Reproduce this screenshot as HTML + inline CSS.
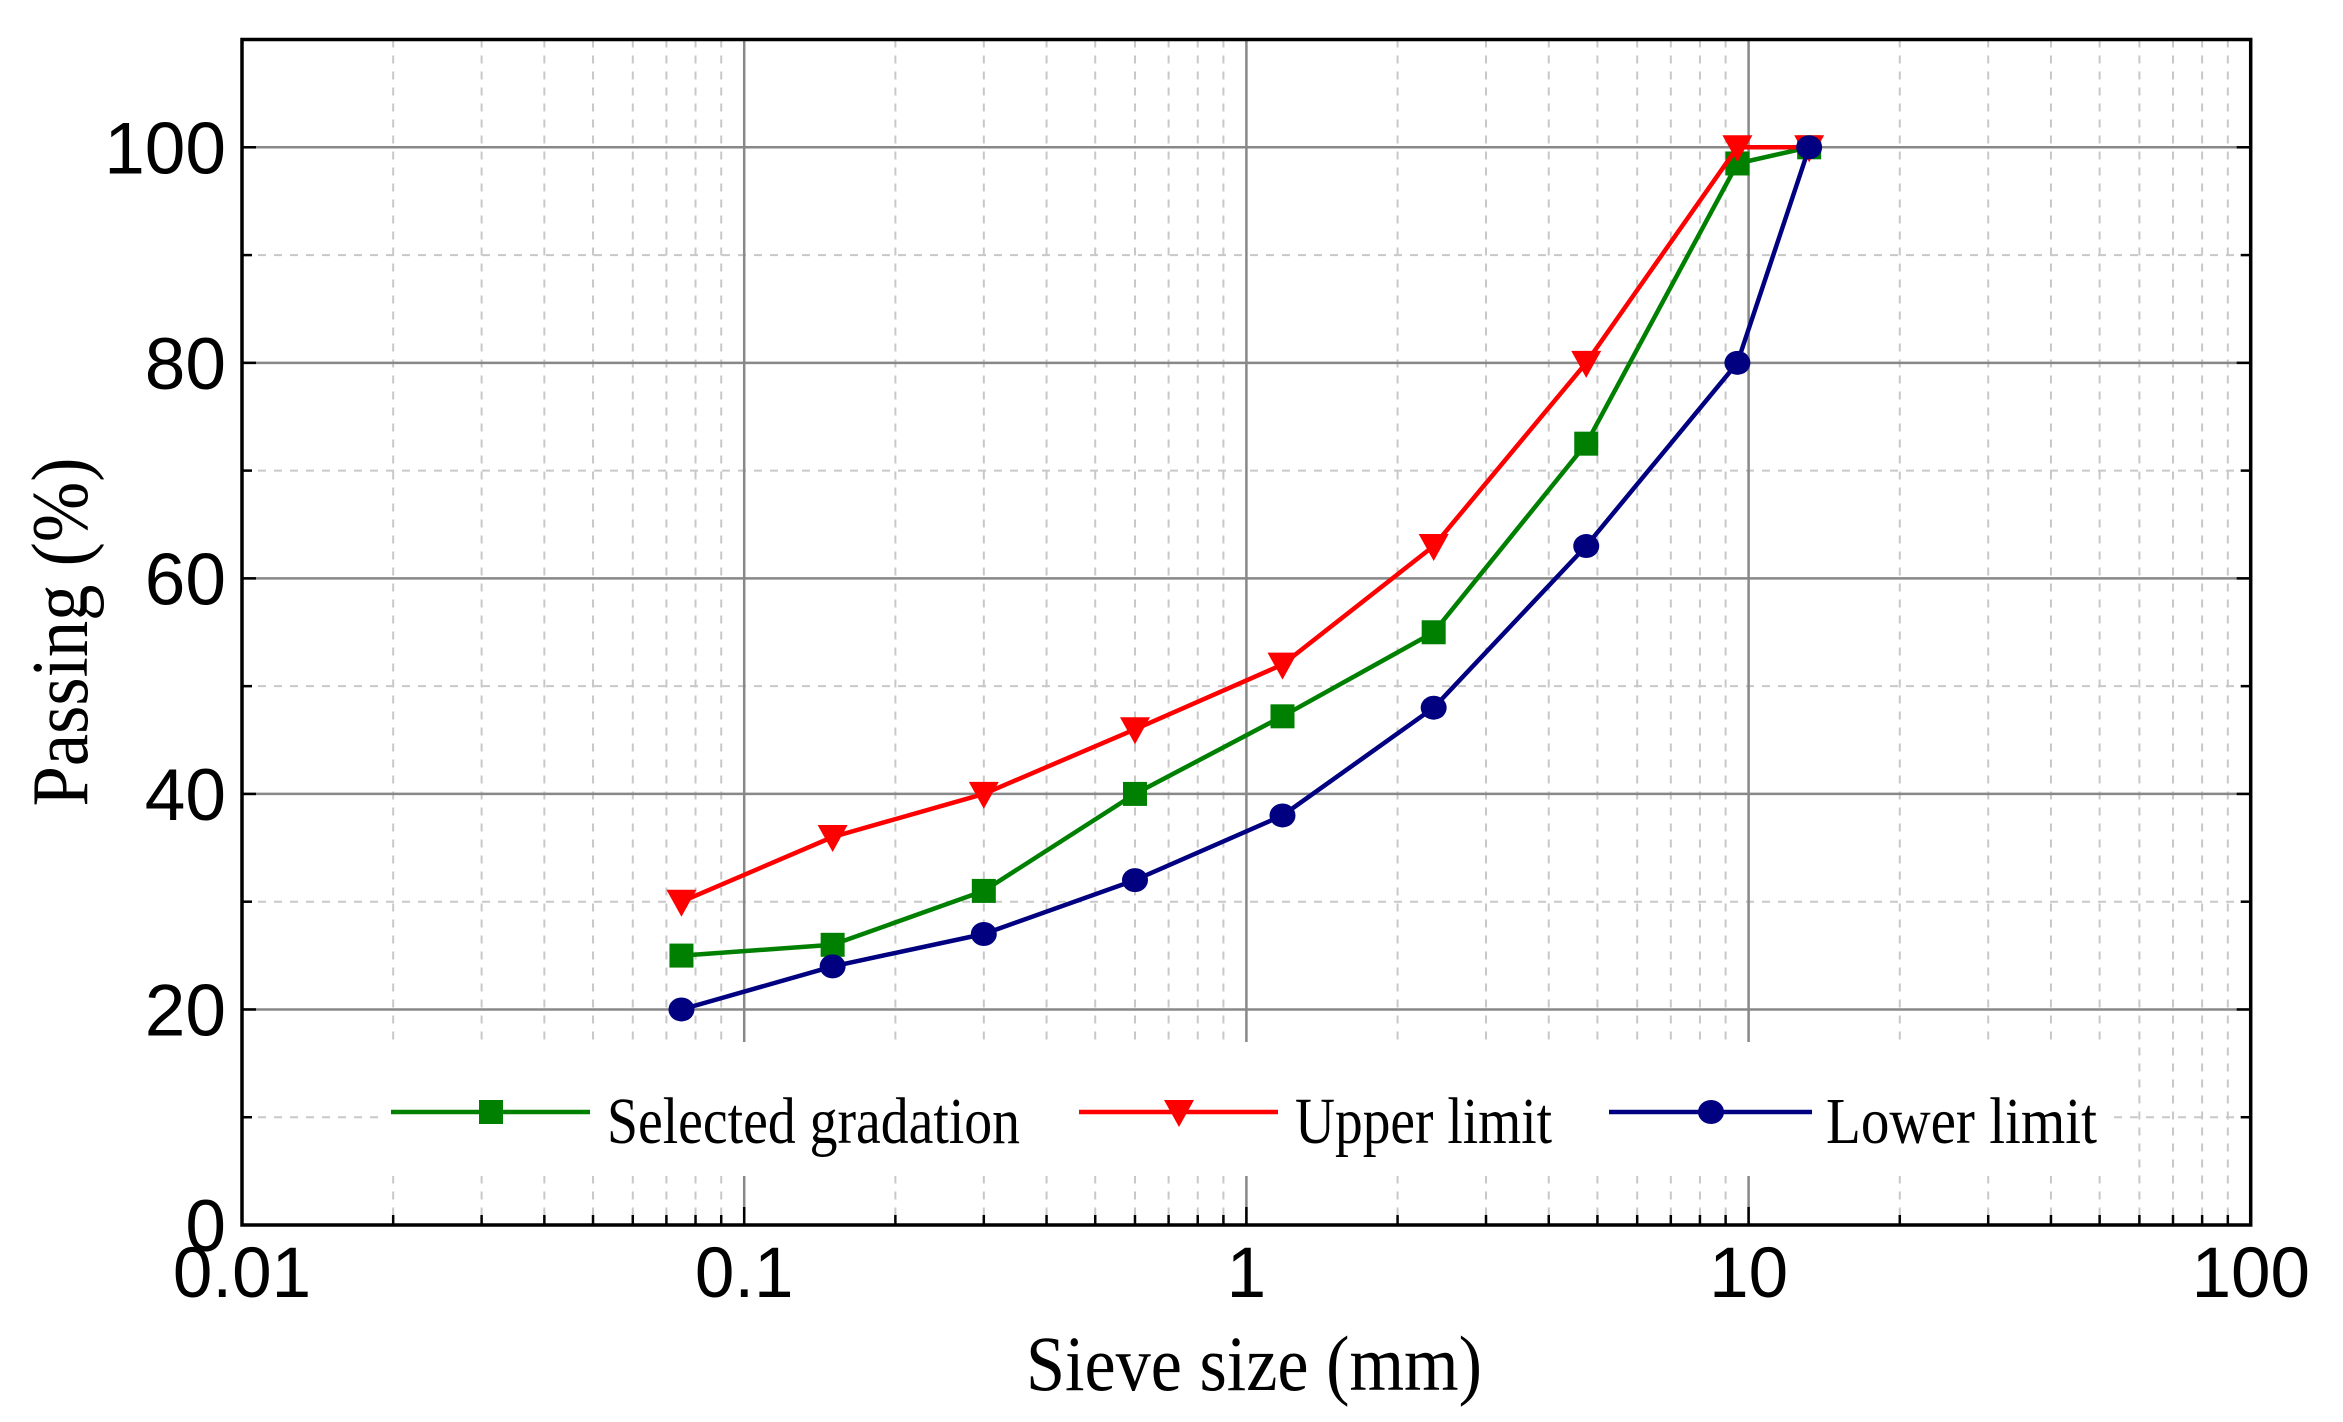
<!DOCTYPE html>
<html><head><meta charset="utf-8"><style>
html,body{margin:0;padding:0;background:#fff;}
svg{display:block;}
</style></head><body>
<svg id="s" width="2343" height="1422" xmlns="http://www.w3.org/2000/svg"></svg>
<script>
const L=242,R=2250.7,T=39.5,B=1225,D=502.2,U=10.777;
const X=v=>L+D*(Math.log10(v)+2), Y=p=>B-U*p;
let h='<rect width="2343" height="1422" fill="#fff"/>';
for(let e=-2;e<2;e++)for(let m=2;m<10;m++){const x=X(m*Math.pow(10,e));h+=`<line x1="${x}" y1="${T}" x2="${x}" y2="${B}" stroke="#c8c8c8" stroke-width="2" stroke-dasharray="8,8"/>`;}
for(let p=10;p<=110;p+=20){h+=`<line x1="${L}" y1="${Y(p)}" x2="${R}" y2="${Y(p)}" stroke="#c8c8c8" stroke-width="2" stroke-dasharray="8,8"/>`;}
for(let e=-1;e<=1;e++){const x=X(Math.pow(10,e));h+=`<line x1="${x}" y1="${T}" x2="${x}" y2="${B}" stroke="#888" stroke-width="2.5"/>`;}
for(let p=20;p<=100;p+=20){h+=`<line x1="${L}" y1="${Y(p)}" x2="${R}" y2="${Y(p)}" stroke="#888" stroke-width="2.5"/>`;}
h+=`<rect x="384" y="1042" width="1722" height="134" fill="#fff"/>`;
for(let e=-2;e<2;e++)for(let m=1;m<10;m++){const x=X(m*Math.pow(10,e));const len=m==1?18:10;h+=`<line x1="${x}" y1="${B}" x2="${x}" y2="${B-len}" stroke="#000" stroke-width="2.5"/>`;}
for(let p=0;p<=110;p+=10){const len=p%20==0?14:10;h+=`<line x1="${L}" y1="${Y(p)}" x2="${L+len}" y2="${Y(p)}" stroke="#000" stroke-width="2.5"/><line x1="${R}" y1="${Y(p)}" x2="${R-len}" y2="${Y(p)}" stroke="#000" stroke-width="2.5"/>`;}
h+=`<rect x="${L}" y="${T}" width="${R-L}" height="${B-T}" fill="none" stroke="#000" stroke-width="3.5"/>`;
for(let p=0;p<=100;p+=20){h+=`<text x="226" y="${Y(p)+26}" text-anchor="end" font-family="Liberation Sans,sans-serif" font-size="73">${p}</text>`;}
['0.01','0.1','1','10','100'].forEach((t,i)=>{h+=`<text x="${L+D*i}" y="1297" text-anchor="middle" font-family="Liberation Sans,sans-serif" font-size="71">${t}</text>`;});
h+=`<text x="0" y="0" transform="translate(87,632) rotate(-90)" text-anchor="middle" font-family="Liberation Serif,serif" font-size="80" textLength="349" lengthAdjust="spacingAndGlyphs">Passing (%)</text>`;
h+=`<text x="1254" y="1390" text-anchor="middle" font-family="Liberation Serif,serif" font-size="78" textLength="456" lengthAdjust="spacingAndGlyphs">Sieve size (mm)</text>`;
const xs=[0.075,0.15,0.3,0.6,1.18,2.36,4.75,9.5,13.2];
const S=[25,26,31,40,47.2,55,72.5,98.5,100],Up=[30,36,40,46,52,63,80,100,100],Lo=[20,24,27,32,38,48,63,80,100];
function sq(x,y,c){return `<rect x="${x-12}" y="${y-12}" width="24" height="24" fill="${c}"/>`;}
function tri(x,y,c){return `<polygon points="${x-15},${y-12} ${x+15},${y-12} ${x},${y+15}" fill="${c}"/>`;}
function ci(x,y,c){return `<ellipse cx="${x}" cy="${y}" rx="13" ry="12" fill="${c}"/>`;}
function series(v,c,mk){let pts=xs.map((x,i)=>X(x).toFixed(1)+','+Y(v[i]).toFixed(1)).join(' ');let s=`<polyline points="${pts}" fill="none" stroke="${c}" stroke-width="4.5" stroke-linejoin="round"/>`;xs.forEach((x,i)=>s+=mk(X(x),Y(v[i]),c));return s;}
h+=series(S,'#008000',sq);
h+=series(Up,'#ff0000',tri);
h+=series(Lo,'#000080',ci);
const ly=1112;
h+=`<line x1="391" y1="${ly}" x2="590" y2="${ly}" stroke="#008000" stroke-width="4.5"/>`+sq(491,ly,'#008000');
h+=`<text x="607" y="1143" font-family="Liberation Serif,serif" font-size="66" textLength="413" lengthAdjust="spacingAndGlyphs">Selected gradation</text>`;
h+=`<line x1="1079" y1="${ly}" x2="1278" y2="${ly}" stroke="#ff0000" stroke-width="4.5"/>`+tri(1179,ly,'#ff0000');
h+=`<text x="1295" y="1143" font-family="Liberation Serif,serif" font-size="66" textLength="257" lengthAdjust="spacingAndGlyphs">Upper limit</text>`;
h+=`<line x1="1609" y1="${ly}" x2="1812" y2="${ly}" stroke="#000080" stroke-width="4.5"/>`+ci(1711,ly,'#000080');
h+=`<text x="1826" y="1143" font-family="Liberation Serif,serif" font-size="66" textLength="271" lengthAdjust="spacingAndGlyphs">Lower limit</text>`;
document.getElementById('s').innerHTML=h;
</script>
</body></html>
